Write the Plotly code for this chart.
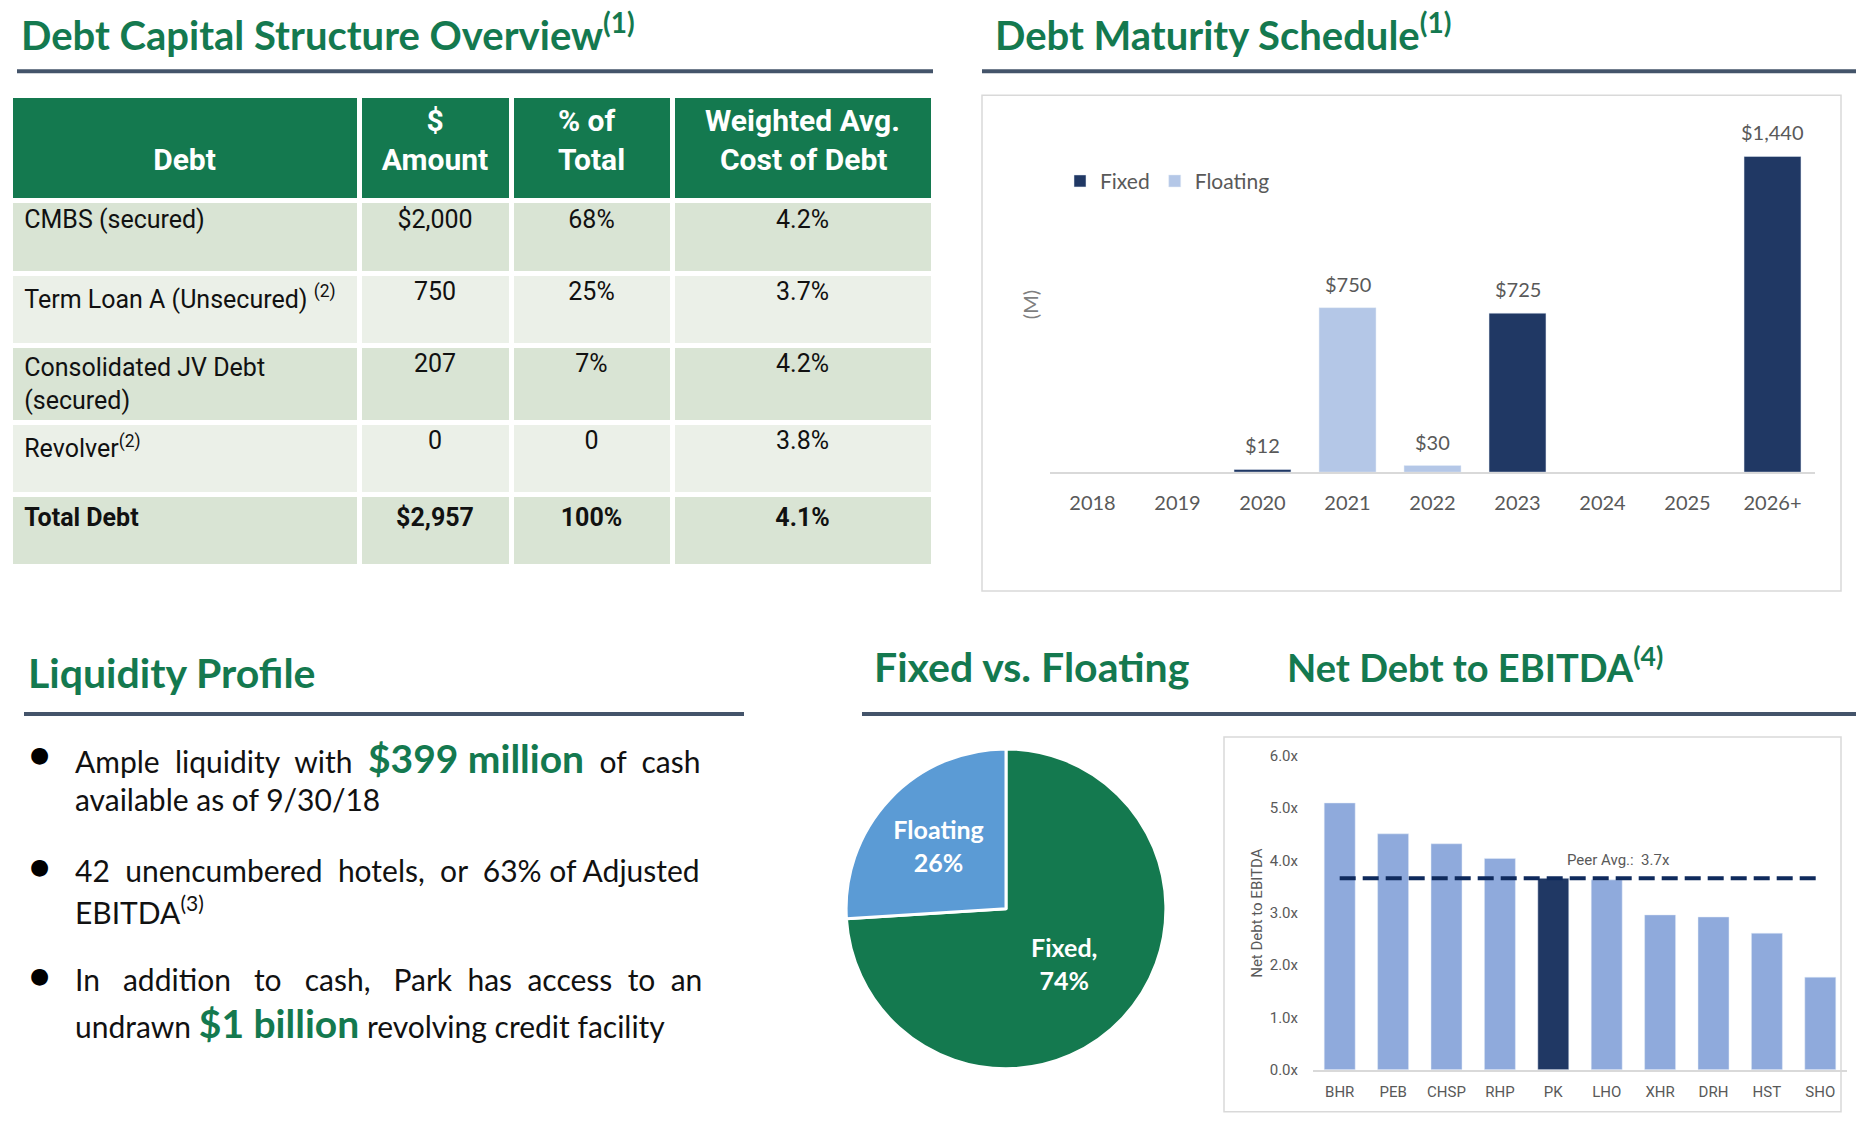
import plotly.graph_objects as go

# Page is 1864x1130; the browser adds an 8px body margin, so the figure is made
# 16px smaller. Layout positions below are given in page pixels and mapped to
# paper coordinates (with a small measured vertical correction).
W, H = 1864, 1130
OFF = 8
FW, FH = W - 2 * OFF, H - 2 * OFF
SY, BY = 0.9845, 16.6


def px(x):
    return (x - OFF) / FW


def py(y):
    return 1 - ((y - BY) / SY) / FH


def hpx(h):
    return h / SY


GREEN = "#14794f"
RULE = "#44546a"
NAVY = "#203864"
LIGHT_NAVY = "#b4c7e7"
PEER_BLUE = "#8faadc"
FLOAT_BLUE = "#5b9bd5"
GRAY = "#595959"
ROW_DARK = "#d9e4d4"
ROW_LIGHT = "#ebf0e8"
NARROW = "Roboto, Liberation Sans, sans-serif"
SANS = "Lato, Open Sans, sans-serif"
NB = "\u00a0"

# ---------------- data ----------------
table_headers = [NB + "<br>Debt", NB * 6 + "$<br>Amount", "% of<br>Total",
                 "Weighted Avg.<br>" + NB * 2 + "Cost of Debt"]
debt_types = ["CMBS (secured)", "Term Loan A (Unsecured)" + NB + "<sup>(2)</sup>",
              "Consolidated JV Debt<br>" + NB + "(secured)", "Revolver<sup>(2)</sup>",
              "<b>Total Debt</b>"]
debt_amounts = ["$2,000", "750", "207", "0", "<b>$2,957</b>"]
debt_pct_total = ["68%", "25%", "7%", "0", "<b>100%</b>"]
debt_cost = ["4.2%", "3.7%", "4.2%", "3.8%", "<b>4.1%</b>"]

maturity_years = ["2018", "2019", "2020", "2021", "2022", "2023", "2024", "2025", "2026+"]
maturity_fixed = [None, None, 12, None, None, 725, None, None, 1440]
maturity_floating = [None, None, None, 750, 30, None, None, None, None]

rate_labels = ["Fixed,", "Floating"]
rate_shares = [74, 26]

peers = ["BHR", "PEB", "CHSP", "RHP", "PK", "LHO", "XHR", "DRH", "HST", "SHO"]
net_debt_ebitda = [5.10, 4.51, 4.32, 4.04, 3.66, 3.63, 2.96, 2.92, 2.61, 1.77]
peer_avg = 3.66
highlight_peer = "PK"

fig = go.Figure()

# ---------------- table ----------------
row_fill = [ROW_DARK, ROW_LIGHT, ROW_DARK, ROW_LIGHT, ROW_DARK]
fig.add_trace(go.Table(
    domain=dict(x=[px(10), px(933)], y=[py(585), py(95)]),
    columnwidth=[349, 152, 161, 261],
    header=dict(
        values=[f"<b>{h}</b>" for h in table_headers],
        fill_color=GREEN,
        line=dict(color="white", width=5),
        align="center",
        height=hpx(104),
        font=dict(family=NARROW, size=30, color="white"),
    ),
    cells=dict(
        values=[[NB + t for t in debt_types], debt_amounts, debt_pct_total, debt_cost],
        fill_color=[row_fill] * 4,
        line=dict(color="white", width=5),
        align=["left", "center", "center", "center"],
        height=hpx(71),
        font=dict(family=NARROW, size=25, color="#111111"),
    ),
))

# ---------------- maturity schedule ----------------
fig.add_trace(go.Bar(
    x=maturity_years, y=maturity_fixed, name="Fixed",
    marker_color=NAVY, xaxis="x", yaxis="y",
))
fig.add_trace(go.Bar(
    x=maturity_years, y=maturity_floating, name="Floating",
    marker_color=LIGHT_NAVY, xaxis="x", yaxis="y",
))

annotations = []
for i, (fv, flv) in enumerate(zip(maturity_fixed, maturity_floating)):
    v = fv if fv is not None else flv
    if v is None:
        continue
    annotations.append(dict(
        x=i, y=v, xref="x", yref="y", text=f"${v:,}", showarrow=False,
        xanchor="center", yanchor="middle",
        yshift=24, font=dict(family=SANS, size=20, color=GRAY),
    ))

# ---------------- pie ----------------
fig.add_trace(go.Pie(
    labels=["Fixed", "Floating"], values=rate_shares,
    text=[f"<b>{lab}<br>{v}%</b>" for lab, v in zip(rate_labels, rate_shares)],
    textinfo="text", textposition="inside", insidetextorientation="horizontal",
    marker=dict(colors=[GREEN, FLOAT_BLUE], line=dict(color="white", width=3)),
    direction="clockwise", sort=False, rotation=0,
    domain=dict(x=[px(846), px(1166)], y=[py(1069), py(749)]),
    textfont=dict(family=SANS, size=25, color="white"),
    showlegend=False,
))

# ---------------- net debt to EBITDA ----------------
fig.add_trace(go.Bar(
    x=peers, y=net_debt_ebitda,
    marker_color=[NAVY if p == highlight_peer else PEER_BLUE for p in peers],
    xaxis="x2", yaxis="y2", showlegend=False, width=0.58,
))
fig.add_trace(go.Scatter(
    x=[peers[0], peers[-1]], y=[peer_avg, peer_avg], mode="lines",
    line=dict(color="#0f2a5c", width=4, dash="16px,7px"),
    xaxis="x2", yaxis="y2", showlegend=False,
))
annotations.append(dict(
    x="LHO", y=peer_avg, xref="x2", yref="y2", text=f"Peer Avg.:  {peer_avg:.1f}x",
    showarrow=False, xanchor="center", yanchor="middle", yshift=18, xshift=12,
    font=dict(family=NARROW, size=15, color=GRAY),
))


# ---------------- text annotations ----------------
def title(text, x, y, size=40):
    annotations.append(dict(
        x=px(x), y=py(y), xref="paper", yref="paper", xanchor="left", yanchor="bottom",
        text=f"<b>{text}</b>", showarrow=False, font=dict(family=SANS, size=size, color=GREEN),
    ))


# y is the text box bottom (a little below the baseline)
title("Debt Capital Structure Overview<sup>(1)</sup>", 19, 61)
title("Debt Maturity Schedule<sup>(1)</sup>", 993, 61)
title("Liquidity Profile", 26, 699, 41)
title("Fixed vs. Floating", 872, 693, 41)
title("Net Debt to EBITDA<sup>(4)</sup>", 1285, 692, 38)

hl = f"<span style='color:{GREEN};font-size:39px'><b>%s</b></span>"


def spread(words, extra):
    gaps = len(words) - 1
    out = words[0]
    for i, w in enumerate(words[1:]):
        k = extra // gaps + (1 if i < extra % gaps else 0)
        out += " " + NB * k + w
    return out


bullet_lines = [
    (758, spread(["Ample", "liquidity", "with", hl % ("$399" + NB + "million"), "of", "cash"], 5)),
    (799, "available as of 9/30/18"),
    (870, spread(["42", "unencumbered", "hotels,", "or", "63%", "of", "Adjusted"], 4)),
    (910, "EBITDA<sup>(3)</sup>"),
    (979, spread(["In", "addition", "to", "cash,", "Park", "has", "access", "to", "an"], 12)),
    (1023, "undrawn " + hl % ("$1" + NB + "billion") + " revolving credit facility"),
]
for y, t in bullet_lines:
    annotations.append(dict(
        x=px(73), y=py(y), xref="paper", yref="paper", xanchor="left", yanchor="middle",
        text=t, showarrow=False, font=dict(family=SANS, size=30, color="#111111"),
    ))
for y in (761, 873, 982):
    annotations.append(dict(
        x=px(39), y=py(y - 6), xref="paper", yref="paper", xanchor="center", yanchor="middle",
        text="●", showarrow=False, font=dict(family="DejaVu Sans", size=22, color="#000000"),
    ))

annotations.append(dict(
    x=px(1030), y=py(304), xref="paper", yref="paper", text="(M)", textangle=-90,
    xanchor="center", yanchor="middle",
    showarrow=False, font=dict(family=SANS, size=20, color="#7f7f7f"),
))
annotations.append(dict(
    x=px(1257), y=py(913), xref="paper", yref="paper", text="Net Debt to EBITDA", textangle=-90,
    xanchor="center", yanchor="middle",
    showarrow=False, font=dict(family=NARROW, size=15, color=GRAY),
))

# ---------------- shapes (rules and frames) ----------------
shapes = []
for x0, x1, y in [(17, 933, 71), (982, 1864, 71), (24, 744, 714), (862, 1864, 714)]:
    shapes.append(dict(type="line", xref="paper", yref="paper",
                       x0=px(x0), x1=px(x1), y0=py(y), y1=py(y),
                       line=dict(color=RULE, width=4)))
for x0, y0, x1, y1 in [(982, 95, 1841, 591), (1224, 737, 1841, 1112)]:
    shapes.append(dict(type="rect", xref="paper", yref="paper",
                       x0=px(x0), x1=px(x1), y0=py(y1), y1=py(y0),
                       line=dict(color="#d9d9d9", width=1.5), layer="below"))

fig.update_layout(
    width=FW, height=FH, margin=dict(l=0, r=0, t=0, b=0),
    paper_bgcolor="white", plot_bgcolor="white",
    barmode="overlay", bargap=0.33,
    font=dict(family=SANS, color=GRAY),
    xaxis=dict(domain=[px(1050), px(1815)], anchor="y", type="category",
               categoryorder="array", categoryarray=maturity_years,
               range=[-0.5, len(maturity_years) - 0.5],
               showline=True, linecolor="#d9d9d9",
               linewidth=2, ticks="", showgrid=False, ticklabelstandoff=12,
               tickfont=dict(family=SANS, size=20, color=GRAY)),
    yaxis=dict(domain=[py(472), py(121)], anchor="x", range=[0, 1600], showgrid=False,
               zeroline=False, showticklabels=False, showline=False),
    xaxis2=dict(domain=[px(1313), px(1847)], anchor="y2", type="category",
                range=[-0.5, len(peers) - 0.5],
                showline=True, linecolor="#d9d9d9",
                linewidth=1.5, ticks="", showgrid=False, ticklabelstandoff=8,
                tickfont=dict(family=NARROW, size=15, color=GRAY)),
    yaxis2=dict(domain=[py(1070), py(756)], anchor="x2", range=[0, 6], dtick=1,
                tickformat=".1f", ticksuffix="x", showgrid=False, zeroline=False,
                showline=False, ticklabelstandoff=14,
                tickfont=dict(family=NARROW, size=15, color=GRAY)),
    legend=dict(orientation="h", x=px(1060), y=py(181), xanchor="left", yanchor="middle",
                font=dict(family=SANS, size=21, color=GRAY), bgcolor="rgba(0,0,0,0)",
                itemwidth=30),
    annotations=annotations,
    shapes=shapes,
)

fig.write_html("out.html")
